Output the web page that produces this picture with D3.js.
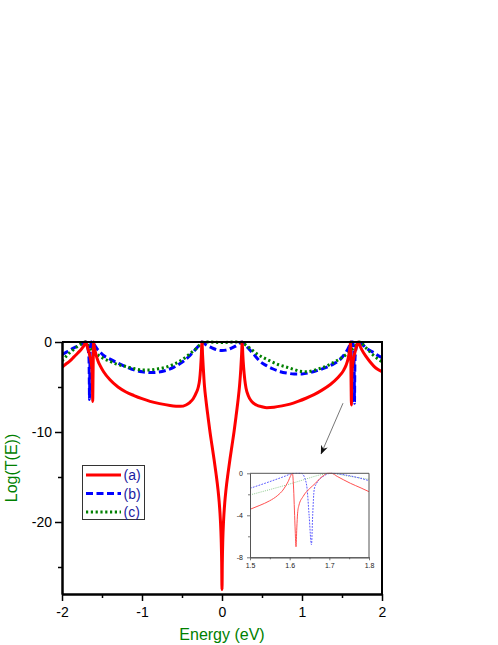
<!DOCTYPE html>
<html><head><meta charset="utf-8">
<script src="https://cdn.jsdelivr.net/npm/d3@7"></script>
<style>body{margin:0;background:#fff}svg{display:block}</style>
</head><body><svg id="c" width="498" height="645"></svg>
<script>
const energyTicks=[-2,-1,0,1,2];
const energyMinor=[-1.5,-0.5,0.5,1.5];
const logTicks=[0,-10,-20];
const logMinor=[-5,-15,-25];
const insetEnergyTicks=[1.5,1.6,1.7,1.8];
const insetEnergyMinor=[1.55,1.65,1.75];
const insetLogTicks=[0,-4,-8];
const insetLogMinor=[-2,-6];
const seriesNames=["(a)","(b)","(c)"];
const xTitle="Energy (eV)";
const yTitle="Log(T(E))";

// main curves: [Energy, Log(T)]
const seriesA=[[-2.00,-2.8],[-1.95,-2.45],[-1.90,-2.1],[-1.85,-1.65],[-1.80,-1.2],[-1.75,-0.7],[-1.72,-0.3],[-1.703,0],[-1.685,-0.5],[-1.665,-1.1],[-1.645,-1.8],[-1.632,-2.5],[-1.624,-3.3],[-1.62,-4.5],[-1.616,-6.6],[-1.613,-4.5],[-1.61,-2.2],[-1.606,0],[-1.595,-0.6],[-1.575,-1.4],[-1.55,-2.1],[-1.525,-2.6],[-1.48,-3.3],[-1.4,-4.2],[-1.3,-5.0],[-1.2,-5.55],[-1.1,-5.95],[-1.0,-6.3],[-0.9,-6.6],[-0.78,-6.85],[-0.65,-7.05],[-0.52,-7.15],[-0.45,-7.0],[-0.4,-6.7],[-0.36,-6.3],[-0.32,-5.6],[-0.296,-5.0],[-0.28,-4.2],[-0.268,-3.0],[-0.258,-1.4],[-0.25,0],[-0.243,-1.4],[-0.233,-3.0],[-0.22,-4.8],[-0.2,-6.5],[-0.175,-8.3],[-0.15,-10.0],[-0.125,-11.5],[-0.1,-13.0],[-0.075,-14.6],[-0.05,-16.4],[-0.035,-17.8],[-0.02,-19.8],[-0.01,-22.0],[-0.004,-24.5],[0,-27.5],[0.004,-24.5],[0.01,-22.0],[0.02,-19.8],[0.035,-17.8],[0.05,-16.4],[0.075,-14.6],[0.1,-13.0],[0.125,-11.5],[0.15,-10.0],[0.175,-8.3],[0.2,-6.5],[0.22,-4.8],[0.235,-3.0],[0.245,-1.4],[0.253,0],[0.26,-1.4],[0.27,-2.8],[0.285,-4.2],[0.3,-5.1],[0.33,-6.0],[0.37,-6.6],[0.43,-7.0],[0.5,-7.2],[0.56,-7.3],[0.65,-7.25],[0.75,-7.1],[0.85,-6.9],[0.95,-6.6],[1.05,-6.25],[1.15,-5.85],[1.25,-5.35],[1.35,-4.75],[1.45,-3.95],[1.52,-3.15],[1.55,-2.6],[1.575,-1.9],[1.59,-1.2],[1.6,-0.6],[1.607,0],[1.611,-2.5],[1.614,-4.8],[1.618,-7.0],[1.621,-4.5],[1.625,-3.2],[1.635,-2.4],[1.65,-1.6],[1.665,-1.05],[1.68,-0.55],[1.692,-0.2],[1.703,0],[1.72,-0.35],[1.75,-0.9],[1.8,-1.6],[1.85,-2.2],[1.9,-2.7],[1.95,-3.05],[2.0,-3.3]];
const seriesB=[[-2.0,-1.4],[-1.95,-1.15],[-1.9,-0.9],[-1.85,-0.65],[-1.8,-0.45],[-1.75,-0.2],[-1.7,0],[-1.69,-0.2],[-1.678,-0.6],[-1.668,-1.2],[-1.662,-2.0],[-1.659,-4.0],[-1.656,-6.4],[-1.653,-4.0],[-1.649,-1.6],[-1.643,-0.5],[-1.634,0],[-1.618,0],[-1.6,-0.25],[-1.563,-0.75],[-1.525,-1.1],[-1.48,-1.5],[-1.4,-1.9],[-1.3,-2.35],[-1.2,-2.75],[-1.1,-3.1],[-1.0,-3.3],[-0.9,-3.4],[-0.8,-3.35],[-0.7,-3.15],[-0.6,-2.8],[-0.5,-2.25],[-0.4,-1.5],[-0.33,-0.8],[-0.28,-0.3],[-0.25,0],[-0.2,-0.3],[-0.15,-0.55],[-0.1,-0.75],[-0.05,-0.9],[0,-0.95],[0.05,-0.9],[0.1,-0.75],[0.15,-0.55],[0.2,-0.3],[0.25,0],[0.3,-0.4],[0.35,-0.9],[0.4,-1.4],[0.475,-2.15],[0.55,-2.6],[0.64,-3.0],[0.73,-3.3],[0.81,-3.45],[0.9,-3.55],[1.0,-3.55],[1.1,-3.4],[1.2,-3.15],[1.31,-2.8],[1.4,-2.4],[1.475,-1.95],[1.52,-1.5],[1.563,-0.95],[1.6,-0.3],[1.618,0],[1.634,0],[1.643,-0.5],[1.649,-1.6],[1.653,-4.0],[1.656,-6.8],[1.659,-4.0],[1.662,-2.0],[1.668,-1.2],[1.678,-0.6],[1.69,-0.2],[1.7,0],[1.75,-0.25],[1.8,-0.65],[1.85,-0.95],[1.9,-1.2],[1.95,-1.5],[2.0,-1.75]];
const seriesC=[[-2.0,-2.1],[-1.95,-1.6],[-1.9,-1.15],[-1.85,-0.8],[-1.8,-0.45],[-1.75,-0.15],[-1.71,0],[-1.68,-0.3],[-1.63,-0.85],[-1.6,-1.1],[-1.525,-1.6],[-1.4,-2.15],[-1.3,-2.5],[-1.19,-2.75],[-1.1,-2.95],[-1.0,-3.1],[-0.9,-3.1],[-0.82,-3.0],[-0.7,-2.8],[-0.61,-2.5],[-0.52,-2.1],[-0.44,-1.6],[-0.38,-1.15],[-0.32,-0.7],[-0.28,-0.35],[-0.25,-0.1],[-0.2,0],[0,-0.05],[0.2,0],[0.25,-0.1],[0.3,-0.35],[0.35,-0.7],[0.39,-1.0],[0.45,-1.4],[0.52,-1.75],[0.6,-2.1],[0.7,-2.5],[0.81,-2.8],[0.9,-3.05],[0.975,-3.25],[1.06,-3.3],[1.18,-3.07],[1.27,-2.8],[1.39,-2.3],[1.45,-2.0],[1.52,-1.6],[1.6,-1.05],[1.68,-0.3],[1.72,0],[1.8,-0.65],[1.89,-1.45],[2.0,-2.2]];

// inset curves (1.5 - 1.8 eV)
const insetA=[[1.5,-3.43],[1.525,-3.05],[1.549,-2.63],[1.57,-2.1],[1.583,-1.6],[1.59,-1.2],[1.596,-0.8],[1.603,-0.2],[1.607,0],[1.61,-1.5],[1.612,-3.5],[1.614,-5.5],[1.616,-7.0],[1.618,-5.2],[1.62,-3.8],[1.623,-3.1],[1.634,-2.2],[1.651,-1.43],[1.665,-0.95],[1.676,-0.5],[1.686,-0.2],[1.695,0],[1.705,0],[1.72,-0.3],[1.753,-0.95],[1.78,-1.4],[1.8,-1.75]];
const insetB=[[1.5,-1.43],[1.55,-0.79],[1.592,-0.22],[1.605,-0.03],[1.618,0],[1.63,0],[1.638,-0.45],[1.644,-1.5],[1.649,-4.0],[1.655,-6.8],[1.658,-4.0],[1.662,-1.5],[1.668,-0.95],[1.676,-0.55],[1.686,-0.25],[1.693,-0.1],[1.703,0],[1.753,-0.25],[1.8,-0.7]];
const insetC=[[1.5,-2.06],[1.55,-1.55],[1.592,-1.11],[1.634,-0.63],[1.676,-0.16],[1.702,0],[1.75,-0.28],[1.8,-0.57]];

const arrowFrom=[1.5125,-6.8];
const arrowTo=[1.24,-12.4];

const FONT="'Liberation Sans', Arial, Helvetica, sans-serif";
const svg=d3.select("#c");
svg.append("rect").attr("width",498).attr("height",645).attr("fill","#fff");

const x=d3.scaleLinear().domain([-2,2]).range([62,382]);
const y=d3.scaleLinear().domain([-28,0]).range([594,342]);

const styles=[
  {color:"#ff0000",w:3,dash:null},
  {color:"#0000ff",w:3,dash:"7,3.5"},
  {color:"#008000",w:3,dash:"2.2,2.6"}
];
const mainData=[seriesA,seriesB,seriesC];

svg.append("clipPath").attr("id","mclip").append("rect")
  .attr("x",x(-2)).attr("y",y(0)-3).attr("width",x(2)-x(-2)).attr("height",y(-28)-y(0)+3);

const line=d3.line().x(d=>x(d[0])).y(d=>y(d[1])).curve(d3.curveMonotoneX);
const gLines=svg.append("g").attr("clip-path","url(#mclip)");
[1,2,0].forEach(i=>{
  gLines.append("path").datum(mainData[i]).attr("d",line)
    .attr("fill","none").attr("stroke",styles[i].color).attr("stroke-width",styles[i].w)
    .attr("stroke-dasharray",styles[i].dash).attr("stroke-linejoin","round");
});

// axes
const fmt=d=>String(d);
svg.append("g").attr("transform",`translate(0,${y(-28)})`)
  .call(d3.axisBottom(x).tickValues(energyTicks).tickFormat(fmt).tickSize(7).tickSizeOuter(0).tickPadding(6));
svg.append("g").attr("transform",`translate(0,${y(-28)})`)
  .call(d3.axisBottom(x).tickValues(energyMinor).tickFormat("").tickSize(4).tickSizeOuter(0));
svg.append("g").attr("transform",`translate(${x(-2)},0)`)
  .call(d3.axisLeft(y).tickValues(logTicks).tickFormat(fmt).tickSize(7).tickSizeOuter(0).tickPadding(3));
svg.append("g").attr("transform",`translate(${x(-2)},0)`)
  .call(d3.axisLeft(y).tickValues(logMinor).tickFormat("").tickSize(4).tickSizeOuter(0));
svg.selectAll(".domain").attr("stroke","#000").attr("stroke-width",2);
svg.selectAll(".tick line").attr("stroke","#000").attr("stroke-width",1.5);
svg.selectAll(".tick text").attr("font-family",FONT).attr("font-size",14).attr("fill","#000");
svg.append("path").attr("d",`M${x(-2)},${y(0)}H${x(2)}V${y(-28)}`)
  .attr("fill","none").attr("stroke","#000").attr("stroke-width",2);

// titles
svg.append("text").attr("x",(x(-2)+x(2))/2).attr("y",640).attr("text-anchor","middle")
  .attr("font-family",FONT).attr("font-size",16).attr("fill","#008000").text(xTitle);
svg.append("text").attr("transform",`translate(17,${(y(0)+y(-28))/2}) rotate(-90)`).attr("text-anchor","middle")
  .attr("font-family",FONT).attr("font-size",16).attr("fill","#008000").text(yTitle);

// legend
const lg=svg.append("g");
lg.append("rect").attr("x",82.5).attr("y",465.5).attr("width",62).attr("height",54)
  .attr("fill","#fff").attr("stroke","#333").attr("stroke-width",1);
seriesNames.forEach((n,i)=>{
  const yy=475+i*18.5;
  lg.append("line").attr("x1",86).attr("x2",121).attr("y1",yy).attr("y2",yy)
    .attr("stroke",styles[i].color).attr("stroke-width",styles[i].w).attr("stroke-dasharray",styles[i].dash);
  lg.append("text").attr("x",123.5).attr("y",yy+5).attr("font-family",FONT).attr("font-size",14)
    .attr("fill","#1a1aa0").text(n);
});

// arrow
svg.append("defs").append("marker").attr("id","ah").attr("viewBox","0 0 10 10").attr("refX",9).attr("refY",5)
  .attr("markerWidth",9).attr("markerHeight",9).attr("markerUnits","userSpaceOnUse").attr("orient","auto")
  .append("path").attr("d","M0,1 L10,5 L0,9 L3,5 Z").attr("fill","#111");
svg.append("line").attr("x1",x(arrowFrom[0])).attr("y1",y(arrowFrom[1])).attr("x2",x(arrowTo[0])).attr("y2",y(arrowTo[1]))
  .attr("stroke","#777").attr("stroke-width",1).attr("marker-end","url(#ah)");

// inset
const ix=d3.scaleLinear().domain([1.5,1.8]).range([250,369]);
const iy=d3.scaleLinear().domain([-8,0]).range([557.3,473.3]);
const ig=svg.append("g");
ig.append("clipPath").attr("id","iclip").append("rect")
  .attr("x",ix(1.5)).attr("y",iy(0)-1).attr("width",ix(1.8)-ix(1.5)).attr("height",iy(-8)-iy(0)+1);
const iline=d3.line().x(d=>ix(d[0])).y(d=>iy(d[1])).curve(d3.curveMonotoneX);
const insetStyles=[
  {color:"#ff5050",dash:null},
  {color:"#5a5aff",dash:"1.8,1.2"},
  {color:"#8cc88c",dash:"1,1.2"}
];
const insetData=[insetA,insetB,insetC];
const igl=ig.append("g").attr("clip-path","url(#iclip)");
[2,1,0].forEach(i=>{
  igl.append("path").datum(insetData[i]).attr("d",iline).attr("fill","none")
    .attr("stroke",insetStyles[i].color).attr("stroke-width",1).attr("stroke-dasharray",insetStyles[i].dash);
});
ig.append("g").attr("class","iax").attr("transform",`translate(0,${iy(-8)})`)
  .call(d3.axisBottom(ix).tickValues(insetEnergyTicks).tickFormat(d=>d.toFixed(1)).tickSize(3).tickSizeOuter(0).tickPadding(3));
ig.append("g").attr("class","iax").attr("transform",`translate(0,${iy(-8)})`)
  .call(d3.axisBottom(ix).tickValues(insetEnergyMinor).tickFormat("").tickSize(2).tickSizeOuter(0));
ig.append("g").attr("class","iax").attr("transform",`translate(${ix(1.5)},0)`)
  .call(d3.axisLeft(iy).tickValues(insetLogTicks).tickFormat(d=>String(d)).tickSize(3).tickSizeOuter(0).tickPadding(4));
ig.append("g").attr("class","iax").attr("transform",`translate(${ix(1.5)},0)`)
  .call(d3.axisLeft(iy).tickValues(insetLogMinor).tickFormat("").tickSize(2).tickSizeOuter(0));
ig.selectAll(".iax .domain").attr("stroke","#555").attr("stroke-width",1);
ig.selectAll(".iax .tick line").attr("stroke","#555").attr("stroke-width",0.8);
ig.selectAll(".iax .tick text").attr("font-family",FONT).attr("font-size",7).attr("fill","#222");
ig.append("path").attr("d",`M${ix(1.5)},${iy(0)}H${ix(1.8)}V${iy(-8)}`)
  .attr("fill","none").attr("stroke","#555").attr("stroke-width",1);
</script></body></html>
